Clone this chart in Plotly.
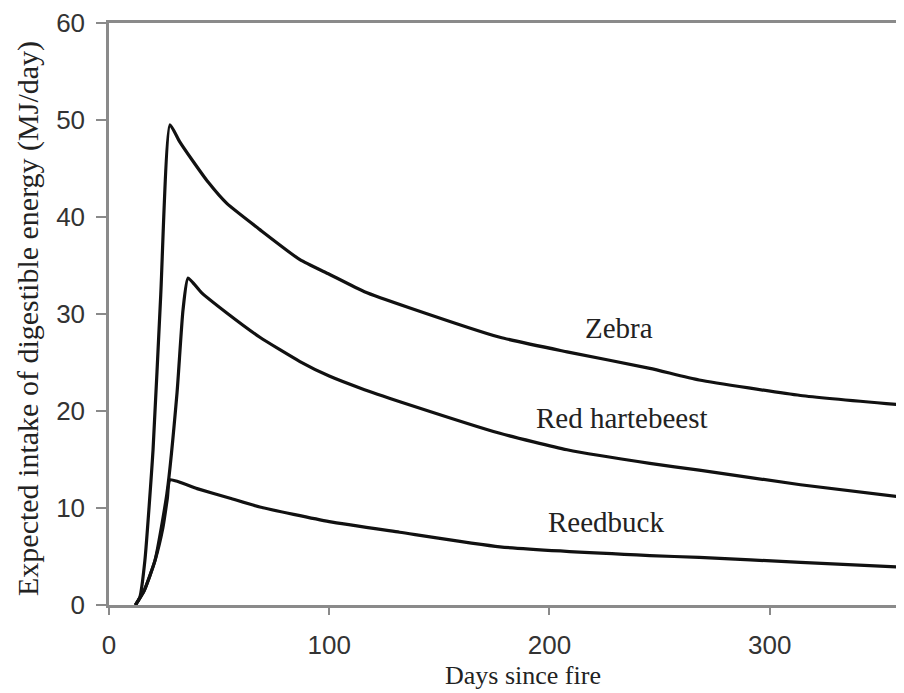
import plotly.graph_objects as go

# Data
zebra_x = [12, 14, 16.3, 20, 23.5, 27.7, 32, 38, 45, 53.5, 68.5, 86.7, 100, 116, 137, 177.5, 208, 245.6, 268, 314, 361]
zebra_y = [0, 0.8, 4.6, 16, 32, 49.5, 47.8, 45.8, 43.6, 41.4, 38.7, 35.6, 34.1, 32.3, 30.6, 27.6, 26.1, 24.4, 23.2, 21.6, 20.6]

hart_x = [12, 16, 20.9, 26.3, 30.9, 33.6, 35.9, 42, 53.5, 68.5, 86.7, 100, 116, 137, 177.5, 208, 245.6, 268, 314, 361]
hart_y = [0, 1.5, 4.6, 11.5, 21.9, 30.4, 33.7, 32.2, 30.1, 27.6, 25.1, 23.6, 22.2, 20.6, 17.7, 16.0, 14.6, 13.9, 12.4, 11.1]

reed_x = [12, 16, 20.9, 24.5, 26.5, 27.7, 40, 55, 68.5, 100, 132, 177.5, 245.6, 268, 314, 361]
reed_y = [0, 1.5, 4.6, 8.0, 11.0, 12.9, 12.0, 11.0, 10.1, 8.6, 7.5, 6.0, 5.1, 4.9, 4.4, 3.9]

labels = ["Zebra", "Red hartebeest", "Reedbuck"]
label_x = [231.5, 232.9, 225.6]
label_y = [28.6, 19.3, 8.6]

x_ticks = [0, 100, 200, 300]
y_ticks = [0, 10, 20, 30, 40, 50, 60]

SERIF = "Liberation Serif, Times New Roman, serif"
SANS = "Liberation Sans, Arial, sans-serif"

# page has an 8px body margin; figure sized to fit the 904x693 window
W, H = 896, 685
L, T, B = 101, 15, 88
PW, PH = W - L, H - T - B

fig = go.Figure()
for xs, ys, name in [(zebra_x, zebra_y, labels[0]), (hart_x, hart_y, labels[1]), (reed_x, reed_y, labels[2])]:
    fig.add_trace(go.Scatter(x=xs, y=ys, mode="lines", name=name,
                             line=dict(color="#111111", width=3.2, shape="spline", smoothing=0.5),
                             showlegend=False))

for t, lx, ly in zip(labels, label_x, label_y):
    fig.add_annotation(x=lx, y=ly, text=t, showarrow=False,
                       font=dict(family=SERIF, size=29, color="#222222"))

# axis titles (original figure is cropped on the right, so titles are placed explicitly)
fig.add_annotation(xref="paper", yref="paper", x=(523 - 109) / PW, y=-(675 - 605) / PH,
                   xanchor="center", yanchor="middle",
                   text="Days since fire", showarrow=False,
                   font=dict(family=SERIF, size=26, color="#222222"))
fig.add_annotation(xref="paper", yref="paper", x=(28 - 109) / PW, y=(605 - 319) / PH,
                   xanchor="center", yanchor="middle", textangle=-90,
                   text="Expected intake of digestible energy (MJ/day)", showarrow=False,
                   font=dict(family=SERIF, size=30, color="#222222"))

fig.update_layout(
    width=W, height=H,
    margin=dict(l=L, r=0, t=T, b=B, autoexpand=False),
    plot_bgcolor="white", paper_bgcolor="white",
    xaxis=dict(range=[0, 361], tickvals=x_ticks, showgrid=False, zeroline=False, automargin=False,
               showline=True, linecolor="#8a8a8a", linewidth=2.5, mirror=True,
               ticks="outside", ticklen=7, tickwidth=2, tickcolor="#8a8a8a",
               ticklabelstandoff=8,
               tickfont=dict(family=SANS, size=26, color="#333333")),
    yaxis=dict(range=[0, 60], tickvals=y_ticks, showgrid=False, zeroline=False, automargin=False,
               showline=True, linecolor="#8a8a8a", linewidth=2.5,
               ticks="outside", ticklen=10, tickwidth=2, tickcolor="#8a8a8a",
               ticklabelstandoff=6,
               tickfont=dict(family=SANS, size=26, color="#333333")),
)

fig.write_html("out.html")
